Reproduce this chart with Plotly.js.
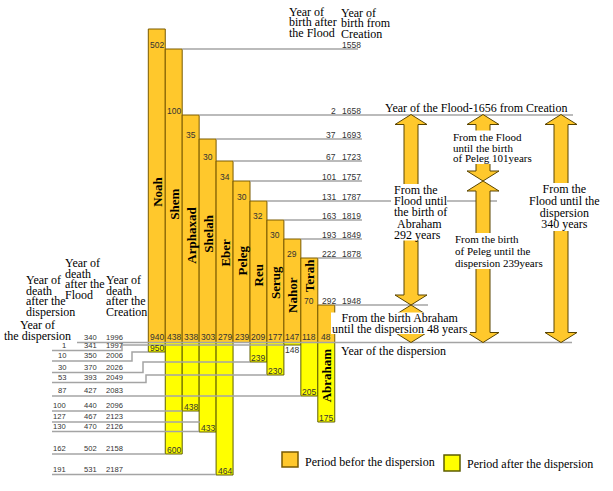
<!DOCTYPE html>
<html><head><meta charset="utf-8">
<script src="https://cdn.plot.ly/plotly-3.0.1.min.js"></script>
<style>html,body{margin:0;padding:0;background:#fff}#chart{width:613px;height:491px}</style>
</head><body><div id="chart"></div>
<script>
// ---------------- DATA ----------------
const people = ['Noah','Shem','Arphaxad','Shelah','Eber','Peleg','Reu','Serug','Nahor','Terah','Abraham'];
const birthYear = [1056,1558,1658,1693,1723,1757,1787,1819,1849,1878,1948];
const deathYear = [2006,2158,2096,2126,2187,1996,2026,2049,1997,2083,2123];
const ageAtNextBirth = [502,100,35,30,34,30,32,30,29,70,null];
const ageAtDispersion = [940,438,338,303,279,239,209,177,147,118,48];
const ageAtDeath = [950,600,438,433,464,239,239,230,148,205,175];
const birthAfterFlood = [null,null,2,37,67,101,131,163,193,222,292];
const floodYear = 1656;
const dispersionYear = 1996;
const deathAfterDispersion = ['',1,10,30,53,87,100,127,130,162,191];
const deathAfterFlood = [340,341,350,370,393,427,440,467,470,502,531];
const deathFromCreation = [1996,1997,2006,2026,2049,2083,2096,2123,2126,2158,2187];

// ---------------- LAYOUT (schematic, non-linear time scale) ----------------
const W = 613, H = 491;
const scaleYears = [1056,1558,1656,1658,1693,1723,1757,1787,1819,1849,1878,1948,1996,1997,2006,2026,2049,2083,2096,2123,2126,2158,2187];
const scalePx    = [29,  49,  114.5,115,139, 161, 181, 201, 220, 239, 258, 305, 342.5,345,352, 362, 375, 396, 411, 422, 432, 454, 475];
function Y(yr){
  if (yr <= scaleYears[0]) return scalePx[0];
  for (let k = 0; k < scaleYears.length - 1; k++){
    if (yr <= scaleYears[k+1]){
      const t = (yr - scaleYears[k]) / (scaleYears[k+1] - scaleYears[k]);
      return scalePx[k] + t * (scalePx[k+1] - scalePx[k]);
    }
  }
  return scalePx[scalePx.length-1];
}
const colLeftPx = 148.3, colWPx = 16.95;
function X(px){ return (px - colLeftPx) / colWPx - 0.5; }

const ORANGE = '#FFC82C', ORANGE_LINE = '#7a5a00';
const YELLOW = '#FFFF00', YELLOW_LINE = '#5e5e00';
const GRAY = '#a4a4a4';
const SERIF = 'Liberation Serif, Times New Roman, serif';
const serif = {family:SERIF, size:12, color:'#000'};
const small = {family:'Liberation Sans, Arial, sans-serif', size:8.5, color:'#333'};
const tiny  = {family:'Liberation Sans, Arial, sans-serif', size:7.6, color:'#333'};

const idx = people.map((_, i) => i);
const dispY = Y(dispersionYear);

// ---------------- TRACES ----------------
const before = {
  type:'bar', x: idx, base: birthYear.map(Y), y: birthYear.map(b => dispY - Y(b)),
  width: 1, marker:{color: ORANGE, line:{color: ORANGE_LINE, width:1}}, hoverinfo:'skip'
};
const after = {
  type:'bar', x: idx, base: idx.map(() => dispY),
  y: deathYear.map(d => d > dispersionYear ? Y(d) - dispY : null),
  width: 1, marker:{color: YELLOW, line:{color: YELLOW_LINE, width:1}}, hoverinfo:'skip'
};

// ---------------- SHAPES ----------------
const shapes = [];
function line(pts, color, width){
  let p = 'M' + pts.map(q => q[0] + ',' + q[1]).join(' L');
  shapes.push({type:'path', xref:'x', yref:'y', path:p, line:{color: color||GRAY, width: width||1.5}, layer:'above'});
}
// birth lines (to the right of each newborn's bar)
const birthLineEndPx = [null, 358, 573, 362, 362, 362, 497, 362, 362, 362, 428];
for (let i = 1; i < people.length; i++){
  line([[i + 0.5, Y(birthYear[i])], [X(birthLineEndPx[i]), Y(birthYear[i])]]);
}
// dispersion line
line([[X(77), dispY], [X(572), dispY]]);
// table row lines + leaders to the bars' ends
const tableLinePx = [342.5, 350.5, 361, 372.5, 382.5, 396, 411, 422, 431.5, 454, 474.5];
const jogPx = [null, 122, 132, 143, 146, null, null, null, null, null, null];
const rowEndOverridePx = {7: 200};
for (let r = 1; r < deathFromCreation.length; r++){
  const i = deathYear.indexOf(deathFromCreation[r]);
  const endX = rowEndOverridePx[r] !== undefined ? X(rowEndOverridePx[r]) : i - 0.5;
  if (jogPx[r] !== null){
    const yd = Y(deathYear[i]);
    line([[X(52), tableLinePx[r]], [X(jogPx[r]), tableLinePx[r]], [X(jogPx[r]), yd], [endX, yd]]);
  } else {
    line([[X(52), tableLinePx[r]], [endX, tableLinePx[r]]]);
  }
}
// block arrows
function arrow(cxPx, yTop, yBot){
  const hw = 16, sw = 7, hh = 10;
  const pts = [[cxPx, yTop],[cxPx+hw, yTop+hh],[cxPx+sw, yTop+hh],[cxPx+sw, yBot-hh],[cxPx+hw, yBot-hh],
               [cxPx, yBot],[cxPx-hw, yBot-hh],[cxPx-sw, yBot-hh],[cxPx-sw, yTop+hh],[cxPx-hw, yTop+hh]];
  shapes.push({type:'path', xref:'x', yref:'y', layer:'above',
    path: 'M' + pts.map(q => X(q[0]) + ',' + q[1]).join(' L') + ' Z',
    fillcolor: ORANGE, line:{color:'#5a4500', width:1}});
}
const arrowColsPx = [411, 483, 561];
arrow(arrowColsPx[0], Y(floodYear), Y(birthYear[10]));
arrow(arrowColsPx[0], Y(birthYear[10]), dispY);
arrow(arrowColsPx[1], Y(floodYear), Y(birthYear[5]));
arrow(arrowColsPx[1], Y(birthYear[5]), dispY);
arrow(arrowColsPx[2], Y(floodYear), dispY);
// white boxes behind arrow captions
function whiteBox(x0,x1,y0,y1){
  shapes.push({type:'rect', xref:'x', yref:'y', layer:'above', x0:X(x0), x1:X(x1), y0:y0, y1:y1,
    fillcolor:'#fff', line:{width:0}});
}
whiteBox(449, 532, 130.5, 164);
whiteBox(391, 447, 184, 240.5);
whiteBox(452, 545, 233, 269);
whiteBox(530, 600, 183, 231);
whiteBox(331, 470, 312.5, 334);
// legend squares
shapes.push({type:'rect', xref:'x', yref:'y', layer:'above', x0:X(282), x1:X(298), y0:452, y1:467, fillcolor:ORANGE, line:{color:ORANGE_LINE, width:1.5}});
shapes.push({type:'rect', xref:'x', yref:'y', layer:'above', x0:X(444), x1:X(460), y0:455, y1:471, fillcolor:YELLOW, line:{color:YELLOW_LINE, width:1.5}});

// ---------------- ANNOTATIONS ----------------
const ann = [];
function txt(s, xpx, ypx, anchor, font, extra){
  ann.push(Object.assign({text:s, x:X(xpx), y:ypx, xref:'x', yref:'y', showarrow:false,
    xanchor: anchor||'left', yanchor:'middle', font: font||serif, borderpad:0}, extra||{}));
}
// multi-line block with tight line spacing: the line step comes from the base font size,
// the glyphs from an inner span
function mblock(lines, xpx, yCenter, anchor, step, size){
  const sz = size || 12;
  const text = lines.map(s => '<span style="font-size:' + sz + 'px">' + s + '</span>').join('<br>');
  ann.push({text:text, x:X(xpx), y:yCenter, xref:'x', yref:'y', showarrow:false,
    xanchor: anchor, yanchor:'middle', align: anchor, borderpad:0,
    font:{family:SERIF, size: step/1.3, color:'#000'}});
}
// names
const nameY = [192, 204, 235, 234, 253, 261, 275, 282.5, 294.5, 275, 375];
people.forEach((n, i) => ann.push({text:'<b>'+n+'</b>', x:i, y:nameY[i], xref:'x', yref:'y', showarrow:false,
  textangle:-90, xanchor:'center', yanchor:'middle',
  font:{family:SERIF, size:13, color:'#000'}}));
// ages inside bars
people.forEach((n, i) => {
  if (ageAtNextBirth[i] !== null) ann.push({text:String(ageAtNextBirth[i]), x:i, y:Y(birthYear[i+1]) - 4.5, xref:'x', yref:'y', showarrow:false, font:small, xanchor:'center', yanchor:'middle'});
  ann.push({text:String(ageAtDispersion[i]), x:i, y:dispY - 5.5, xref:'x', yref:'y', showarrow:false, font:small, xanchor:'center', yanchor:'middle'});
  if (deathYear[i] > dispersionYear){
    const h = Y(deathYear[i]) - dispY;
    ann.push({text:String(ageAtDeath[i]), x:i, y: h > 8 ? Y(deathYear[i]) - 4.5 : Y(deathYear[i]) + 5, xref:'x', yref:'y', showarrow:false, font:small, xanchor:'center', yanchor:'middle'});
  }
});
// birth-year labels on the right
for (let i = 1; i < people.length; i++){
  if (birthAfterFlood[i] !== null) txt(String(birthAfterFlood[i]), 337, Y(birthYear[i]) - 4, 'right', small);
  txt(String(birthYear[i]), 341, Y(birthYear[i]) - 4, 'left', small);
}
// death table on the left
deathFromCreation.forEach((c, r) => {
  const yy = tableLinePx[r] - 5.3;
  if (deathAfterDispersion[r] !== '') txt(String(deathAfterDispersion[r]), 66.5, yy, 'right', tiny);
  txt(String(deathAfterFlood[r]), 82.5, yy, 'left', tiny);
  txt(String(c), 105, yy, 'left', tiny);
});
// headers
mblock(['Year of','death','after the','dispersion'], 25, 295.8, 'left', 10.5);
mblock(['Year of','death','after the','Flood'], 64, 278.8, 'left', 10.5);
mblock(['Year of','death','after the','Creation'], 105, 295.8, 'left', 10.5);
mblock(['Year of','the dispersion'], 37, 330.8, 'center', 10.5);
mblock(['Year of','birth after','the Flood'], 288, 22.3, 'left', 10.3);
mblock(['Year of','birth from','Creation'], 340, 23, 'left', 10.3);
// right-side captions
txt('Year of the Flood-1656 from Creation', 476, 108, 'center');
mblock(['From the Flood','until the birth','of Peleg 101years'], 451.5, 147.2, 'left', 10.5, 11);
mblock(['From the','Flood until','the birth of','&nbsp;Abraham','292 years'], 393, 212.9, 'left', 11.2);
mblock(['From the birth','of Peleg until the','dispersion 239years'], 454, 251, 'left', 12, 11);
mblock(['From the','Flood until the','dispersion','340 years'], 564, 206.8, 'center', 11.8);
mblock(['From the birth Abraham','until the dispersion 48 years'], 400, 323.9, 'center', 10.8);
txt('Year of the dispersion', 340, 351, 'left');
// legend texts
txt('Period befor the dispersion', 304, 461.5, 'left');
txt('Period after the dispersion', 466, 463.5, 'left');

const layout = {
  width: W, height: H, margin:{l:0, r:0, t:0, b:0, pad:0},
  paper_bgcolor:'#fff', plot_bgcolor:'#fff', showlegend:false,
  barmode:'overlay', bargap:0,
  xaxis:{range:[X(0), X(W)], visible:false, fixedrange:true},
  yaxis:{range:[H, 0], visible:false, fixedrange:true},
  shapes: shapes, annotations: ann
};
Plotly.newPlot('chart', [before, after], layout, {displayModeBar:false, staticPlot:true});
</script>
</body></html>
